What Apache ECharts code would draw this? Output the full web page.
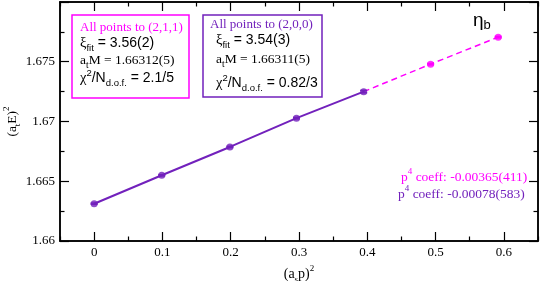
<!DOCTYPE html>
<html><head><meta charset="utf-8">
<script src="https://cdn.jsdelivr.net/npm/echarts@6/dist/echarts.min.js"></script>
<style>html,body{margin:0;padding:0;background:#fff}#c{width:540px;height:281px}</style>
</head><body><div id="c"></div>
<script>
// ---- data ----
const xPurple = [0, 0.099, 0.1988, 0.2963, 0.3947];
const yPurple = [1.66312, 1.66550, 1.66787, 1.67028, 1.67250];
const ePurple = [0.00005, 0.00005, 0.00005, 0.00006, 0.0001];
const xMagenta = [0.3947, 0.4927, 0.5917];
const yMagenta = [1.67250, 1.67480, 1.67706];
const eMagenta = [0.0001, 0.00006, 0.00006];
const xTickVals = [0, 0.1, 0.2, 0.3, 0.4, 0.5, 0.6];
const xTickLabels = ['0', '0.1', '0.2', '0.3', '0.4', '0.5', '0.6'];
const xMinorVals = [-0.05, 0.05, 0.15, 0.25, 0.35, 0.45, 0.55, 0.65];
const yTickVals = [1.66, 1.665, 1.67, 1.675, 1.68];
const yTickLabels = ['1.66', '1.665', '1.67', '1.675', ''];
const yMinorVals = [1.6625, 1.6675, 1.6725, 1.6775];

const MAG = '#FF00FF', PUR = '#7221BC';
const SERIF = '"Liberation Serif","DejaVu Serif",serif';
const SANS = '"Liberation Sans",Arial,sans-serif';

const zip = (a, b, c) => a.map((v, i) => c ? [v, b[i], c[i]] : [v, b[i]]);

const chart = echarts.init(document.getElementById('c'), null, {renderer: 'canvas'});

function xAx(pos, labels, vals, len) {
  return {
    type: 'value', position: pos, min: -0.05, max: 0.65,
    axisLine: {show: true, onZero: false, lineStyle: {color: '#000', width: 1.5}},
    splitLine: {show: false},
    axisTick: {show: true, inside: true, length: len, customValues: vals, lineStyle: {color: '#000', width: 1.2}},
    axisLabel: labels ? {show: true, customValues: xTickVals, fontFamily: SERIF, fontSize: 13, color: '#000', margin: 5,
      formatter: v => { const i = xTickVals.findIndex(t => Math.abs(t - v) < 1e-9); return i >= 0 ? xTickLabels[i] : ''; }} : {show: false}
  };
}
function yAx(pos, labels, vals, len) {
  return {
    type: 'value', position: pos, min: 1.66, max: 1.68,
    axisLine: {show: true, onZero: false, lineStyle: {color: '#000', width: 1.5}},
    splitLine: {show: false},
    axisTick: {show: true, inside: true, length: len, customValues: vals, lineStyle: {color: '#000', width: 1.2}},
    axisLabel: labels ? {show: true, customValues: yTickVals, fontFamily: SERIF, fontSize: 13, color: '#000', margin: 5,
      formatter: v => { const i = yTickVals.findIndex(t => Math.abs(t - v) < 1e-9); return i >= 0 ? yTickLabels[i] : ''; }} : {show: false}
  };
}

const xAxes = [
  Object.assign(xAx('bottom', true, xTickVals, 9), {
    name: '{m|(a}{s|s}{m|p)}{p|2}', nameLocation: 'middle', nameGap: 19,
    nameTextStyle: {rich: {
      m: {fontFamily: SERIF, fontSize: 14, color: '#000', lineHeight: 20},
      s: {fontFamily: SERIF, fontSize: 9, color: '#000', lineHeight: 9, verticalAlign: 'bottom'},
      p: {fontFamily: SERIF, fontSize: 9, color: '#000', lineHeight: 9, verticalAlign: 'top'}
    }}
  }),
  xAx('bottom', false, xMinorVals, 4.5),
  xAx('top', false, xTickVals, 9),
  xAx('top', false, xMinorVals, 4.5)
];
const yAxes = [
  Object.assign(yAx('left', true, yTickVals, 9), {
    name: '{m|(a}{s|t}{m|E)}{p|2}', nameLocation: 'middle', nameGap: 38, nameRotate: 90,
    nameMoveOverlap: false,
    nameTextStyle: {rich: {
      m: {fontFamily: SERIF, fontSize: 13.5, color: '#000', lineHeight: 20},
      s: {fontFamily: SERIF, fontSize: 9, color: '#000', lineHeight: 9, verticalAlign: 'bottom'},
      p: {fontFamily: SERIF, fontSize: 9, color: '#000', lineHeight: 9, verticalAlign: 'top'}
    }}
  }),
  yAx('left', false, yMinorVals, 4.5),
  yAx('right', false, yTickVals, 9),
  yAx('right', false, yMinorVals, 4.5)
];

function errBars(color) {
  return function (params, api) {
    const x = api.value(0), y = api.value(1), e = api.value(2);
    const hi = api.coord([x, y + e]), lo = api.coord([x, y - e]);
    const w = 3.5, st = {stroke: color, lineWidth: 1.5};
    return {type: 'group', children: [
      {type: 'line', shape: {x1: hi[0], y1: hi[1], x2: lo[0], y2: lo[1]}, style: st},
      {type: 'line', shape: {x1: hi[0] - w, y1: hi[1], x2: hi[0] + w, y2: hi[1]}, style: st},
      {type: 'line', shape: {x1: lo[0] - w, y1: lo[1], x2: lo[0] + w, y2: lo[1]}, style: st}
    ]};
  };
}

function mkRich(color) {
  return {
    t: {fontFamily: SERIF, fontSize: 13, fill: color, lineHeight: 20},
    g: {fontFamily: SERIF, fontSize: 14.5, fill: '#000', lineHeight: 20},
    m: {fontFamily: SERIF, fontSize: 13.5, fill: '#000', lineHeight: 20},
    n: {fontFamily: SANS, fontSize: 14, fill: '#000', lineHeight: 20},
    s: {fontFamily: SANS, fontSize: 9.5, fill: '#000', lineHeight: 9, verticalAlign: 'bottom'},
    ss: {fontFamily: SERIF, fontSize: 9.5, fill: '#000', lineHeight: 9, verticalAlign: 'bottom'},
    p: {fontFamily: SANS, fontSize: 9.5, fill: '#000', lineHeight: 9, verticalAlign: 'top'},
    c: {fontFamily: SERIF, fontSize: 13.5, fill: color, lineHeight: 20},
    cp: {fontFamily: SERIF, fontSize: 9, fill: color, lineHeight: 9, verticalAlign: 'top'}
  };
}
function txt(x, y, segs, color) {
  return {type: 'text', x: x, y: y, z: 100,
    style: {text: segs.map(s => '{' + s[0] + '|' + s[1] + '}').join(''), rich: mkRich(color),
      align: 'left', verticalAlign: 'middle'}};
}

const graphics = [
  {type: 'rect', shape: {x: 72, y: 15, width: 117, height: 83}, style: {fill: '#fff', stroke: MAG, lineWidth: 1.5}, z: 90},
  txt(80, 28, [['t', 'All points to (2,1,1)']], MAG),
  txt(80, 43, [['g', 'ξ'], ['s', 'fit'], ['n', ' = 3.56(2)']], MAG),
  txt(80, 60, [['m', 'a'], ['ss', 't'], ['m', 'M = 1.66312(5)']], MAG),
  txt(80, 78, [['g', 'χ'], ['p', '2'], ['n', '/N'], ['s', 'd.o.f.'], ['n', ' = 2.1/5']], MAG),

  {type: 'rect', shape: {x: 203, y: 15, width: 119, height: 82}, style: {fill: '#fff', stroke: PUR, lineWidth: 1.5}, z: 90},
  txt(210, 25, [['t', 'All points to (2,0,0)']], PUR),
  txt(216, 40, [['g', 'ξ'], ['s', 'fit'], ['n', ' = 3.54(3)']], PUR),
  txt(216, 59, [['m', 'a'], ['ss', 't'], ['m', 'M = 1.66311(5)']], PUR),
  txt(216, 83, [['g', 'χ'], ['p', '2'], ['n', '/N'], ['s', 'd.o.f.'], ['n', ' = 0.82/3']], PUR),

  {type: 'text', x: 473, y: 21, z: 100, style: {text: '{e|η}{b|b}', align: 'left', verticalAlign: 'middle', rich: {
    e: {fontFamily: SANS, fontSize: 19, fill: '#000', lineHeight: 22},
    b: {fontFamily: SANS, fontSize: 13, fill: '#000', lineHeight: 13, verticalAlign: 'bottom'}
  }}},

  txt(401, 177, [['c', 'p'], ['cp', '4'], ['c', ' coeff: -0.00365(411)']], MAG),
  txt(398, 194, [['c', 'p'], ['cp', '4'], ['c', ' coeff: -0.00078(583)']], PUR)
];

const option = {
  backgroundColor: '#fff',
  animation: false,
  grid: {left: 60, right: 2, top: 2, bottom: 40, show: false, containLabel: false, outerBoundsMode: 'none'},
  xAxis: xAxes,
  yAxis: yAxes,
  graphic: graphics,
  series: [
    {type: 'line', data: zip(xMagenta, yMagenta), symbol: 'none', lineStyle: {color: MAG, width: 1.5, type: [6, 4]}, z: 2},
    {type: 'line', data: zip(xPurple, yPurple), symbol: 'none', lineStyle: {color: PUR, width: 2}, z: 3},
    {type: 'scatter', data: zip(xMagenta.slice(1), yMagenta.slice(1)), symbol: 'circle', symbolSize: 7, itemStyle: {color: MAG}, z: 4},
    {type: 'scatter', data: zip(xPurple, yPurple), symbol: 'circle', symbolSize: 7, itemStyle: {color: PUR}, z: 5},
    {type: 'custom', data: zip(xMagenta.slice(1), yMagenta.slice(1), eMagenta.slice(1)), renderItem: errBars(MAG), z: 4},
    {type: 'custom', data: zip(xPurple, yPurple, ePurple), renderItem: errBars(PUR), z: 5}
  ]
};
chart.setOption(option);
</script></body></html>
